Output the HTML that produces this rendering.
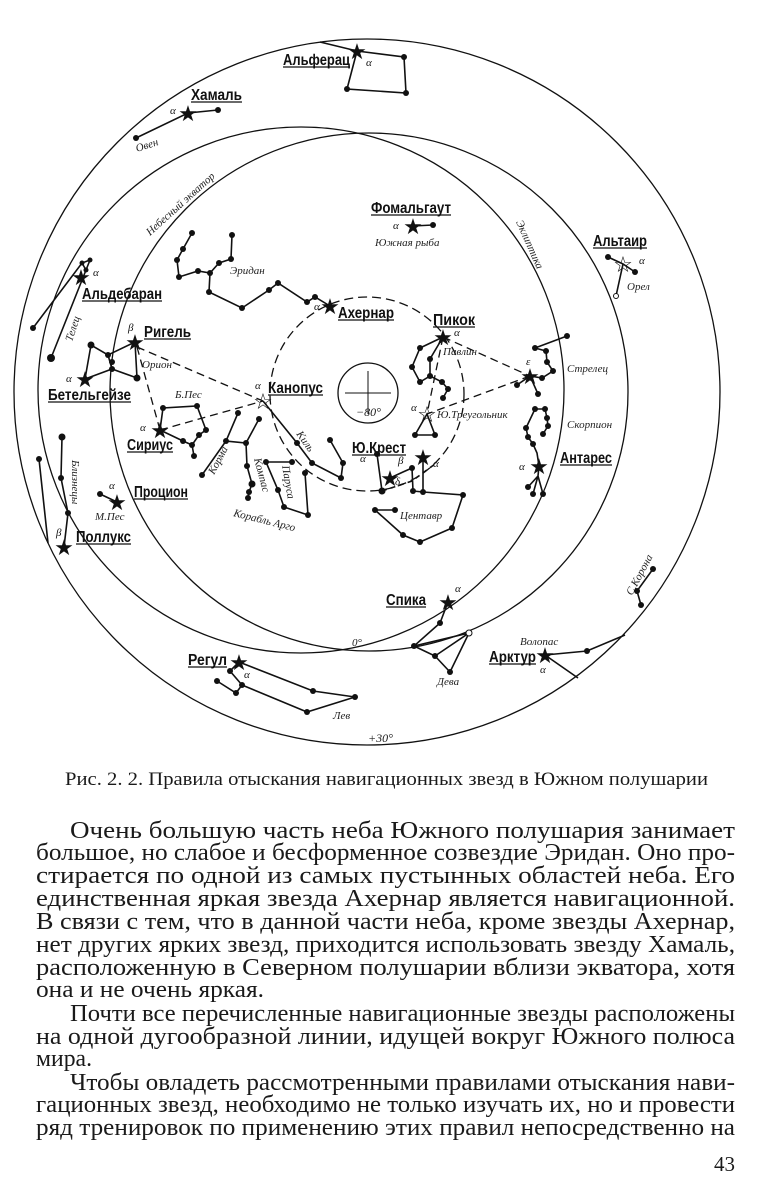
<!DOCTYPE html>
<html><head><meta charset="utf-8"><style>
html,body{margin:0;padding:0;background:#fff;}
svg{display:block;}
.lb{font-family:"Liberation Sans Narrow","Liberation Sans",sans-serif;font-weight:bold;font-size:16px;fill:#111;}
.it{font-family:"Liberation Serif",serif;font-style:italic;font-size:11px;fill:#222;}
.gr{font-family:"Liberation Serif",serif;font-style:italic;font-size:11px;fill:#111;}
.st{font-family:"DejaVu Sans",sans-serif;font-size:22px;fill:#111;text-anchor:middle;}
.tx{font-family:"Liberation Serif",serif;font-size:24px;fill:#1a1a1a;}
</style></head><body>
<svg width="760" height="1200" viewBox="0 0 760 1200" xmlns="http://www.w3.org/2000/svg">
<g fill="none" stroke="#111" stroke-width="1.3">
<circle cx="367" cy="392" r="353"/>
<circle cx="369" cy="392" r="259"/>
<circle cx="301" cy="390" r="263"/>
<circle cx="367" cy="394" r="97" stroke-dasharray="9,5"/>
<circle cx="368" cy="393" r="30"/>
<path d="M345 393H391M368 371V414" stroke-width="1"/>
<path d="M137 347L263 401M160 430L263 401M137 347L160 430M443 337L530 376M530 376L427 414M443 337L427 414" stroke-dasharray="8,5"/>
</g>
<g fill="none" stroke="#111" stroke-width="1.6">
<path d="M320 42L357 51L404 57L406 93L347 89L357 51"/>
<path d="M136 138L188 113L218 110"/>
<path d="M413 226L433 225"/>
<path d="M608 257L623 264L635 272M623 264L616 296"/>
<path d="M33 328L82 263L90 260M51 358L90 260M86 270L82 263"/>
<path d="M135 342L108 355L91 345L85 379L112 369L137 378L135 342M108 355L112 369"/>
<path d="M160 430L163 408L197 406L206 430L199 435L192 445L183 441L160 430M192 445L194 456"/>
<path d="M100 494L117 502"/>
<path d="M62 437L61 478L68 513L64 547M39 459L48 543"/>
<path d="M192 233L183 249L177 260L179 277L198 271L210 273L219 263L231 259L232 235M210 273L209 292L242 308L269 290L278 283L307 302L315 297L330 306"/>
<path d="M263 401L297 443L312 463L341 478L343 463L330 440"/>
<path d="M238 413L226 441L246 443L259 419M226 441L202 475M246 443L247 466L252 484L249 492L248 498"/>
<path d="M266 462L292 462M266 462L278 490L284 507L308 515L305 473"/>
<path d="M443 337L420 348L412 367L420 382L430 376L430 359L443 337M430 376L442 382L448 389L443 398"/>
<path d="M427 414L415 435L435 435Z"/>
<path d="M535 348L567 336M535 348L546 351L547 362L553 371L542 378L530 376L517 385M530 376L538 394"/>
<path d="M535 409L545 409L547 418L548 426L543 434M535 409L526 428L528 437L533 444L537 453L539 466L538 476L528 487M538 476L533 494M538 476L543 494"/>
<path d="M377 454L382 491M390 478L403 472L412 468M412 468L413 491M423 457L423 492"/>
<path d="M413 491L423 492L463 495L452 528L420 542L403 535L375 510L395 510"/>
<path d="M382 491L412 481L435 464" stroke-dasharray="5,4"/>
<path d="M239 662L230 671L242 685L236 693L217 681M242 685L307 712L355 697L313 691L239 662"/>
<path d="M448 602L440 623L414 646L435 656L450 672L469 633L435 656M414 646L469 633"/>
<path d="M545 655L587 651L625 635M545 655L578 678"/>
<path d="M653 569L637 591L641 605"/>
</g>
<g fill="#111">
<circle cx="404" cy="57" r="3"/><circle cx="406" cy="93" r="3"/><circle cx="347" cy="89" r="3"/>
<circle cx="218" cy="110" r="3"/><circle cx="136" cy="138" r="3"/><circle cx="433" cy="225" r="3"/>
<circle cx="608" cy="257" r="3"/><circle cx="635" cy="272" r="3"/><circle cx="616" cy="296" r="2.5" fill="#fff" stroke="#111"/>
<circle cx="33" cy="328" r="3"/><circle cx="51" cy="358" r="4"/><circle cx="82" cy="263" r="2.5"/><circle cx="90" cy="260" r="2.5"/><circle cx="86" cy="270" r="2.5"/>
<circle cx="91" cy="345" r="3.5"/><circle cx="108" cy="355" r="3"/><circle cx="112" cy="362" r="3"/><circle cx="112" cy="369" r="3"/><circle cx="137" cy="378" r="3.5"/>
<circle cx="163" cy="408" r="3"/><circle cx="197" cy="406" r="3"/><circle cx="206" cy="430" r="3"/><circle cx="199" cy="435" r="3"/><circle cx="192" cy="445" r="3"/><circle cx="183" cy="441" r="3"/><circle cx="194" cy="456" r="3"/>
<circle cx="100" cy="494" r="3"/><circle cx="62" cy="437" r="3.5"/><circle cx="61" cy="478" r="3"/><circle cx="68" cy="513" r="3"/><circle cx="39" cy="459" r="3"/>
<circle cx="192" cy="233" r="3"/><circle cx="183" cy="249" r="3"/><circle cx="177" cy="260" r="3"/><circle cx="179" cy="277" r="3"/><circle cx="198" cy="271" r="3"/><circle cx="210" cy="273" r="3"/><circle cx="219" cy="263" r="3"/><circle cx="231" cy="259" r="3"/><circle cx="232" cy="235" r="3"/><circle cx="209" cy="292" r="3"/><circle cx="242" cy="308" r="3"/><circle cx="269" cy="290" r="3"/><circle cx="278" cy="283" r="3"/><circle cx="307" cy="302" r="3"/><circle cx="315" cy="297" r="3"/>
<circle cx="297" cy="443" r="3"/><circle cx="312" cy="463" r="3"/><circle cx="341" cy="478" r="3"/><circle cx="343" cy="463" r="3"/><circle cx="330" cy="440" r="3"/>
<circle cx="238" cy="413" r="3"/><circle cx="226" cy="441" r="3"/><circle cx="246" cy="443" r="3"/><circle cx="259" cy="419" r="3"/><circle cx="202" cy="475" r="3"/><circle cx="247" cy="466" r="3"/><circle cx="252" cy="484" r="3.5"/><circle cx="249" cy="492" r="3"/><circle cx="248" cy="498" r="3"/>
<circle cx="266" cy="462" r="3"/><circle cx="292" cy="462" r="3"/><circle cx="278" cy="490" r="3"/><circle cx="284" cy="507" r="3"/><circle cx="308" cy="515" r="3"/><circle cx="305" cy="473" r="3"/>
<circle cx="420" cy="348" r="3"/><circle cx="412" cy="367" r="3"/><circle cx="420" cy="382" r="3"/><circle cx="430" cy="376" r="3"/><circle cx="430" cy="359" r="3"/><circle cx="442" cy="382" r="3"/><circle cx="448" cy="389" r="3"/><circle cx="443" cy="398" r="3"/>
<circle cx="415" cy="435" r="3"/><circle cx="435" cy="435" r="3"/>
<circle cx="535" cy="348" r="3"/><circle cx="567" cy="336" r="3"/><circle cx="546" cy="351" r="3"/><circle cx="547" cy="362" r="3"/><circle cx="553" cy="371" r="3"/><circle cx="542" cy="378" r="3"/><circle cx="517" cy="385" r="3"/><circle cx="538" cy="394" r="3"/>
<circle cx="535" cy="409" r="3"/><circle cx="545" cy="409" r="3"/><circle cx="547" cy="418" r="3"/><circle cx="548" cy="426" r="3"/><circle cx="543" cy="434" r="3"/><circle cx="526" cy="428" r="3"/><circle cx="528" cy="437" r="3"/><circle cx="533" cy="444" r="3"/><circle cx="528" cy="487" r="3"/><circle cx="533" cy="494" r="3"/><circle cx="543" cy="494" r="3"/>
<circle cx="377" cy="454" r="3"/><circle cx="382" cy="491" r="3.5"/><circle cx="412" cy="468" r="3"/><circle cx="413" cy="491" r="3"/><circle cx="423" cy="492" r="3"/><circle cx="463" cy="495" r="3"/><circle cx="452" cy="528" r="3"/><circle cx="420" cy="542" r="3"/><circle cx="403" cy="535" r="3"/><circle cx="375" cy="510" r="3"/><circle cx="395" cy="510" r="3"/>
<circle cx="230" cy="671" r="3"/><circle cx="242" cy="685" r="3"/><circle cx="236" cy="693" r="3"/><circle cx="217" cy="681" r="3"/><circle cx="307" cy="712" r="3"/><circle cx="355" cy="697" r="3"/><circle cx="313" cy="691" r="3"/>
<circle cx="440" cy="623" r="3"/><circle cx="414" cy="646" r="3"/><circle cx="435" cy="656" r="3"/><circle cx="450" cy="672" r="3"/><circle cx="469" cy="633" r="3" fill="#fff" stroke="#111"/>
<circle cx="587" cy="651" r="3"/><circle cx="653" cy="569" r="3"/><circle cx="637" cy="591" r="3"/><circle cx="641" cy="605" r="3"/>
</g>
<g class="st">
<text x="357" y="59">★</text><text x="188" y="121">★</text><text x="413" y="234">★</text><text x="623" y="272">☆</text>
<text x="81" y="285">★</text><text x="135" y="350">★</text><text x="85" y="387">★</text><text x="263" y="409">☆</text>
<text x="160" y="438">★</text><text x="117" y="510">★</text><text x="64" y="555">★</text><text x="330" y="314">★</text>
<text x="443" y="345">★</text><text x="427" y="422">☆</text><text x="530" y="384">★</text><text x="539" y="474">★</text>
<text x="390" y="486">★</text><text x="423" y="465">★</text><text x="448" y="610">★</text><text x="545" y="663">★</text><text x="239" y="670">★</text>
</g>
<g class="lb">
<text x="283" y="65" textLength="67" lengthAdjust="spacingAndGlyphs">Альферац</text>
<text x="191" y="100" textLength="51" lengthAdjust="spacingAndGlyphs">Хамаль</text>
<text x="371" y="213" textLength="80" lengthAdjust="spacingAndGlyphs">Фомальгаут</text>
<text x="593" y="246" textLength="54" lengthAdjust="spacingAndGlyphs">Альтаир</text>
<text x="82" y="299" textLength="80" lengthAdjust="spacingAndGlyphs">Альдебаран</text>
<text x="144" y="337" textLength="47" lengthAdjust="spacingAndGlyphs">Ригель</text>
<text x="48" y="400" textLength="83" lengthAdjust="spacingAndGlyphs">Бетельгейзе</text>
<text x="268" y="393" textLength="55" lengthAdjust="spacingAndGlyphs">Канопус</text>
<text x="127" y="450" textLength="46" lengthAdjust="spacingAndGlyphs">Сириус</text>
<text x="134" y="497" textLength="54" lengthAdjust="spacingAndGlyphs">Процион</text>
<text x="76" y="542" textLength="55" lengthAdjust="spacingAndGlyphs">Поллукс</text>
<text x="338" y="318" textLength="56" lengthAdjust="spacingAndGlyphs">Ахернар</text>
<text x="433" y="325" textLength="42" lengthAdjust="spacingAndGlyphs">Пикок</text>
<text x="352" y="453" textLength="54" lengthAdjust="spacingAndGlyphs">Ю.Крест</text>
<text x="560" y="463" textLength="52" lengthAdjust="spacingAndGlyphs">Антарес</text>
<text x="386" y="605" textLength="40" lengthAdjust="spacingAndGlyphs">Спика</text>
<text x="489" y="662" textLength="47" lengthAdjust="spacingAndGlyphs">Арктур</text>
<text x="188" y="665" textLength="39" lengthAdjust="spacingAndGlyphs">Регул</text>
</g>
<g stroke="#111" stroke-width="1.2">
<path d="M283 67H350M191 102H242M371 215H451M593 248H647M82 301H162M144 339H191M48 402H131M268 395H323M127 452H173M134 499H188M76 544H131M338 320H394M433 327H475M352 455H406M560 465H612M386 607H426M489 664H536M188 667H227"/>
</g>
<g class="gr">
<text x="366" y="66">α</text><text x="170" y="114">α</text><text x="393" y="229">α</text><text x="639" y="264">α</text>
<text x="93" y="276">α</text><text x="128" y="331">β</text><text x="66" y="382">α</text><text x="255" y="389">α</text>
<text x="140" y="431">α</text><text x="109" y="489">α</text><text x="56" y="536">β</text><text x="314" y="310">α</text>
<text x="454" y="336">α</text><text x="411" y="411">α</text><text x="526" y="365">ε</text><text x="519" y="470">α</text>
<text x="360" y="462">α</text><text x="398" y="464">β</text><text x="433" y="467">α</text><text x="455" y="592">α</text>
<text x="540" y="673">α</text><text x="244" y="678">α</text><text x="395" y="485">δ</text>
</g>
<g class="it">
<text x="137" y="152" transform="rotate(-18 137 152)">Овен</text>
<text x="375" y="246">Южная рыба</text>
<text x="627" y="290">Орел</text>
<text x="72" y="342" transform="rotate(-72 72 342)">Телец</text>
<text x="142" y="368">Орион</text>
<text x="175" y="398">Б.Пес</text>
<text x="95" y="520">М.Пес</text>
<text x="72" y="460" transform="rotate(90 72 460)">Близнецы</text>
<text x="230" y="274">Эридан</text>
<text x="443" y="355">Павлин</text>
<text x="437" y="418">Ю.Треугольник</text>
<text x="567" y="372">Стрелец</text>
<text x="567" y="428">Скорпион</text>
<text x="400" y="519">Центавр</text>
<text x="296" y="434" transform="rotate(55 296 434)">Киль</text>
<text x="214" y="475" transform="rotate(-62 214 475)">Корма</text>
<text x="254" y="459" transform="rotate(75 254 459)">Компас</text>
<text x="282" y="466" transform="rotate(80 282 466)">Паруса</text>
<text x="233" y="516" transform="rotate(14 233 516)">Корабль Арго</text>
<text x="437" y="685">Дева</text>
<text x="333" y="719">Лев</text>
<text x="520" y="645">Волопас</text>
<text x="632" y="596" transform="rotate(-62 632 596)">С.Корона</text>
<text x="150" y="236" transform="rotate(-42 150 236)">Небесный экватор</text>
<text x="516" y="222" transform="rotate(66 516 222)">Эклиптика</text>
<text x="352" y="646">0°</text>
<text x="368" y="742" style="font-size:12px">+30°</text>
<text x="356" y="416" style="font-size:12px">−80°</text>
</g>
<text x="65" y="785" class="tx" style="font-size:19px" textLength="643" lengthAdjust="spacingAndGlyphs">Рис. 2. 2. Правила отыскания навигационных звезд в Южном полушарии</text>
<g class="tx">
<text x="70" y="838" textLength="665" lengthAdjust="spacingAndGlyphs">Очень большую часть неба  Южного  полушария  занимает</text>
<text x="36" y="860" textLength="699" lengthAdjust="spacingAndGlyphs">большое, но слабое и бесформенное созвездие Эридан. Оно про-</text>
<text x="36" y="883" textLength="699" lengthAdjust="spacingAndGlyphs">стирается по одной из самых  пустынных  областей  неба. Его</text>
<text x="36" y="906" textLength="699" lengthAdjust="spacingAndGlyphs">единственная яркая звезда Ахернар  является  навигационной.</text>
<text x="36" y="929" textLength="699" lengthAdjust="spacingAndGlyphs">В связи с тем, что в данной части неба, кроме звезды Ахернар,</text>
<text x="36" y="952" textLength="699" lengthAdjust="spacingAndGlyphs">нет других ярких звезд, приходится использовать звезду Хамаль,</text>
<text x="36" y="975" textLength="699" lengthAdjust="spacingAndGlyphs">расположенную в Северном полушарии вблизи экватора,  хотя</text>
<text x="36" y="997" textLength="228" lengthAdjust="spacingAndGlyphs">она и не очень яркая.</text>
<text x="70" y="1021" textLength="665" lengthAdjust="spacingAndGlyphs">Почти все перечисленные навигационные звезды расположены</text>
<text x="36" y="1044" textLength="699" lengthAdjust="spacingAndGlyphs">на одной дугообразной линии, идущей вокруг Южного  полюса</text>
<text x="36" y="1066" textLength="56" lengthAdjust="spacingAndGlyphs">мира.</text>
<text x="70" y="1090" textLength="665" lengthAdjust="spacingAndGlyphs">Чтобы овладеть рассмотренными правилами отыскания нави-</text>
<text x="36" y="1112" textLength="699" lengthAdjust="spacingAndGlyphs">гационных звезд, необходимо не только изучать их, но и провести</text>
<text x="36" y="1135" textLength="699" lengthAdjust="spacingAndGlyphs">ряд тренировок по применению этих правил непосредственно на</text>
<text x="735" y="1171" text-anchor="end" style="font-size:21px">43</text>
</g>
</svg>
</body></html>
